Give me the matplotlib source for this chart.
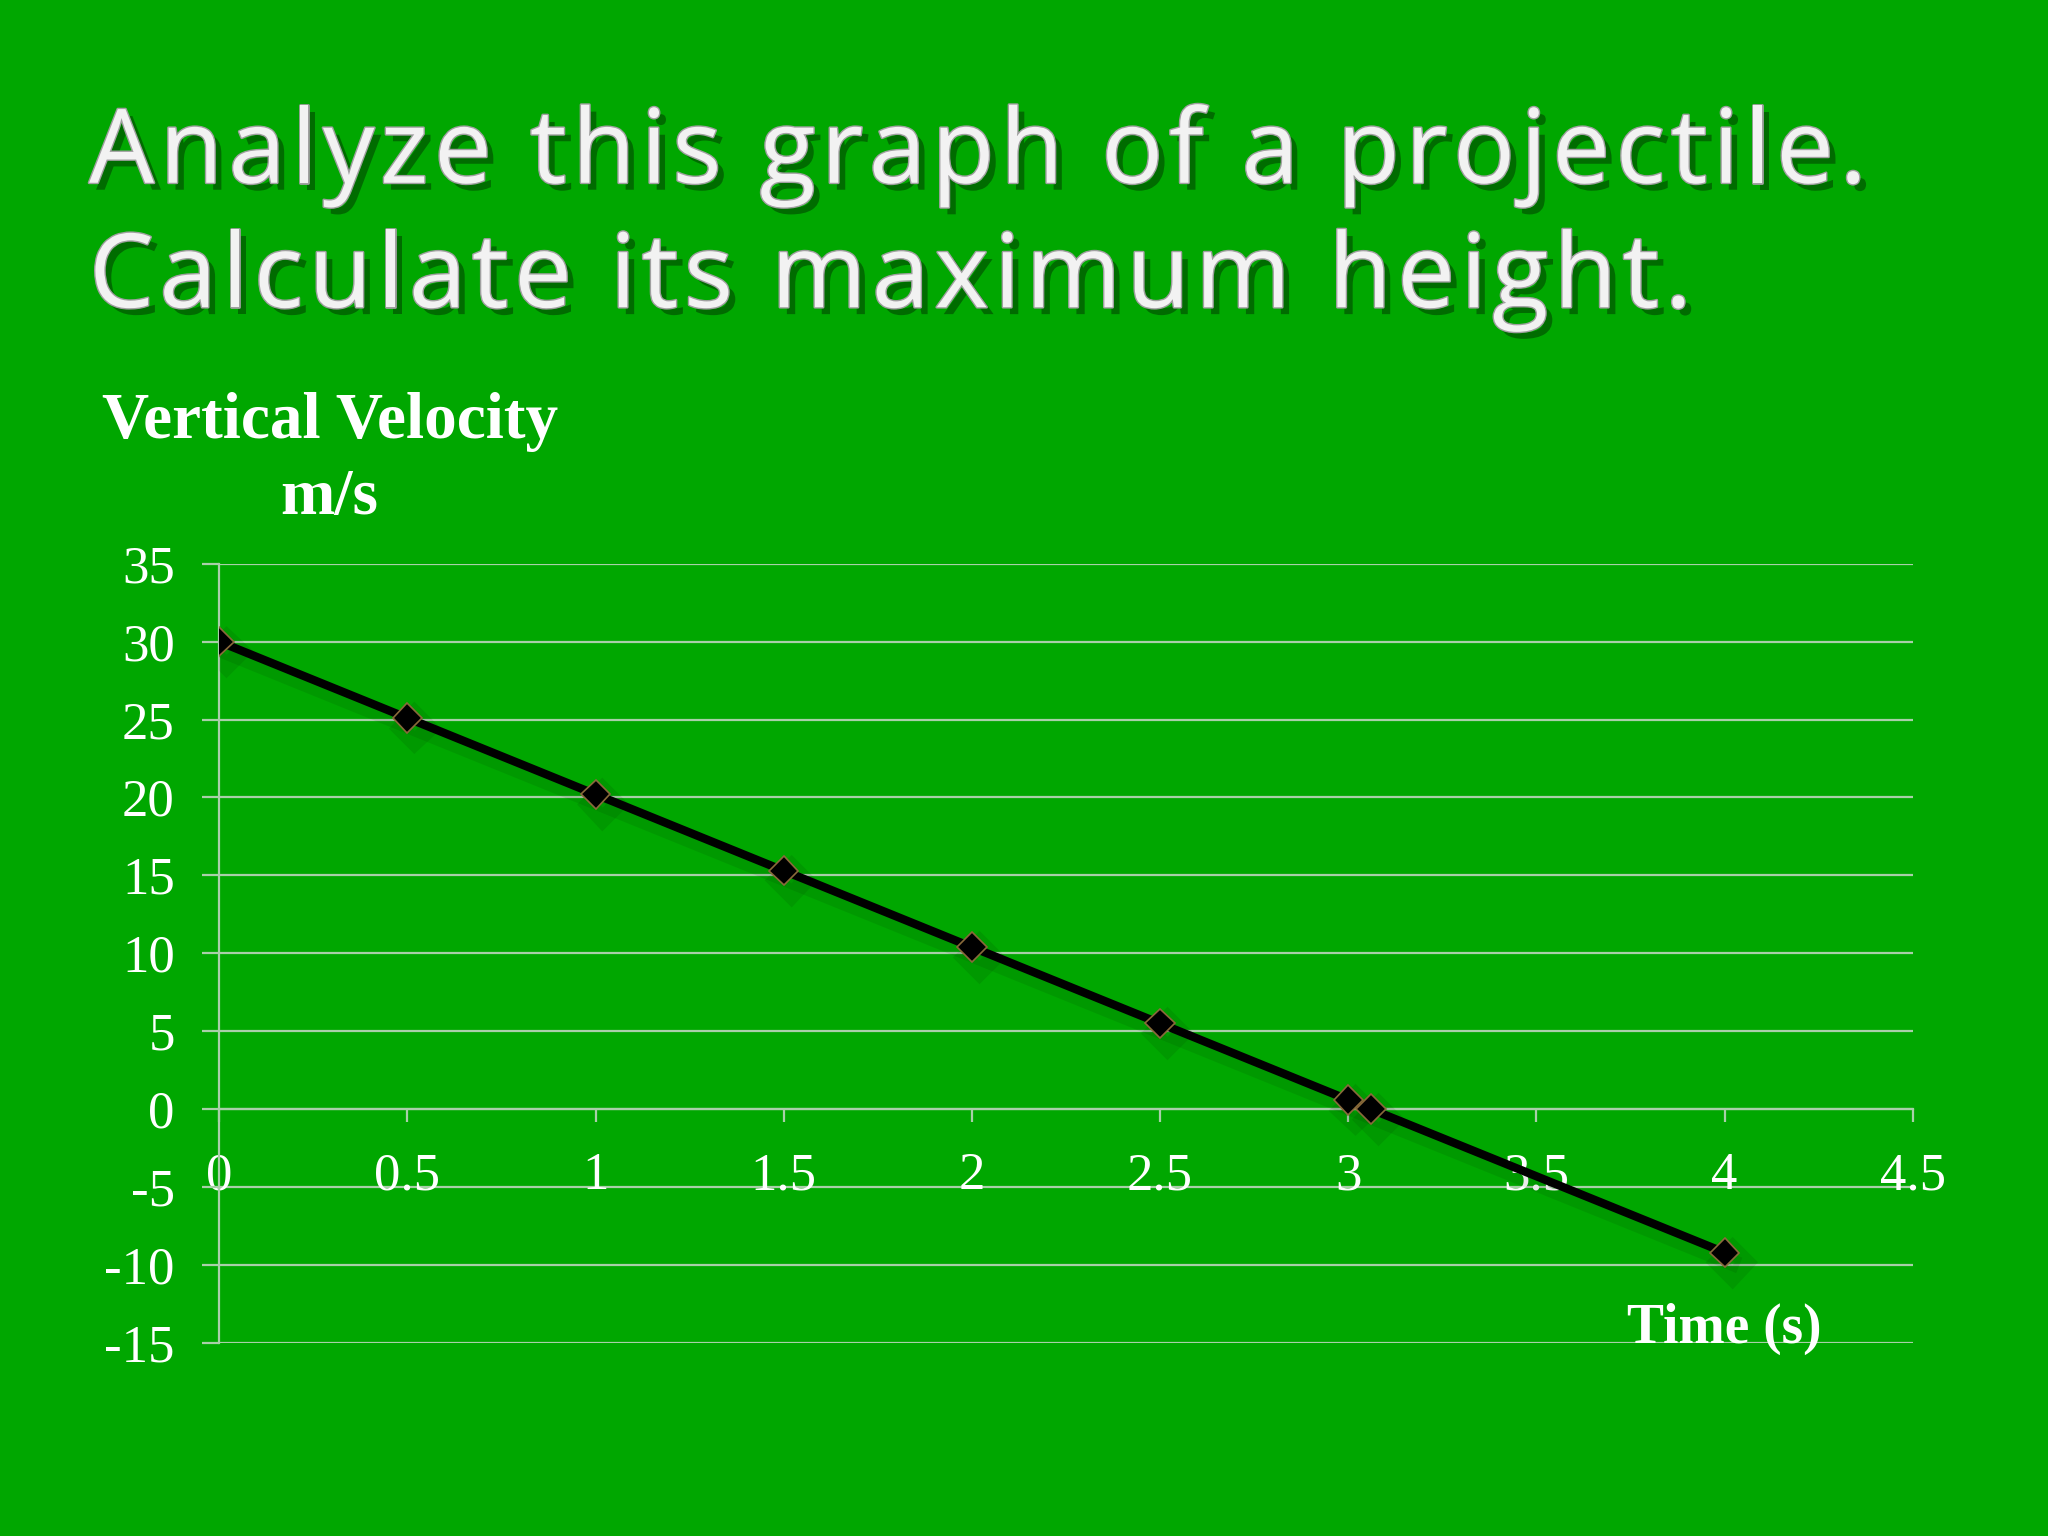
import numpy as np
import matplotlib.pyplot as plt
import matplotlib.patheffects as pe

# data
time_s = [0, 0.5, 1, 1.5, 2, 2.5, 3, 3.06, 4]
velocity = [30, 25.1, 20.2, 15.3, 10.4, 5.5, 0.6, 0, -9.2]
x_ticks = [0, 0.5, 1, 1.5, 2, 2.5, 3, 3.5, 4, 4.5]
x_labels = ['0', '0.5', '1', '1.5', '2', '2.5', '3', '3.5', '4', '4.5']
y_ticks = [-15, -10, -5, 0, 5, 10, 15, 20, 25, 30, 35]

green = '#00a700'
grid_c = '#a9cfa9'
serif = ['Liberation Serif', 'DejaVu Serif']

fig = plt.figure(figsize=(20.48, 15.36), dpi=100, facecolor=green)
ax = fig.add_axes([0.107, 0.1257, 0.827, 0.5073])
ax.set_facecolor(green)
rend = fig.canvas.get_renderer()


def text_w(s, **kw):
    t = fig.text(0, 0, s, **kw)
    w = t.get_window_extent(rend).width
    t.remove()
    return w


def spaced_text(x, y, s, track, fx=None, **kw):
    # text with extra letter spacing (track in pixels)
    W = fig.bbox.width
    x0 = x * W
    for i, ch in enumerate(s):
        if ch == ' ':
            continue
        w = text_w(s[:i + 1], **kw)
        c = text_w(ch, **kw)
        t = fig.text((x0 + w - c + i * track) / W, y, ch, ha='left', **kw)
        if fx:
            t.set_path_effects(fx)


# title with shadow
title_fx = [pe.withSimplePatchShadow(offset=(5, -5), shadow_rgbFace='black', alpha=0.35),
            pe.Stroke(linewidth=2, foreground='#a0a0a0'), pe.Normal()]
for txt, yy in [('Analyze this graph of a projectile.', 0.881),
                ('Calculate its maximum height.', 0.800)]:
    spaced_text(0.0435, yy, txt, 5.7, fx=title_fx, color='#f2f2f2', fontsize=74,
                family=['Open Sans', 'DejaVu Sans'], va='baseline')

line_fx = [pe.SimpleLineShadow(offset=(5, -7), shadow_color='black', alpha=0.08, linewidth=12), pe.Normal()]
ax.plot(time_s, velocity, color='black', lw=6, marker='D', ms=15,
        markerfacecolor='black', markeredgecolor='#8a6a3a', markeredgewidth=1.2,
        zorder=5, path_effects=line_fx)

ax.set_xlim(0, 4.5)
ax.set_ylim(-15, 35)

for y in y_ticks:
    ax.axhline(y, color=grid_c, lw=1.6, zorder=1)

for s in ['top', 'right']:
    ax.spines[s].set_visible(False)
ax.spines['left'].set_color(grid_c)
ax.spines['left'].set_linewidth(1.6)
ax.spines['bottom'].set_position(('data', 0))
ax.spines['bottom'].set_color(grid_c)
ax.spines['bottom'].set_linewidth(1.6)

ax.set_yticks(y_ticks)
ax.set_yticklabels([str(v) for v in y_ticks], family=serif, fontsize=38, color='white')
ax.tick_params(axis='y', length=12, width=1.6, color=grid_c, pad=20)

ax.set_xticks(x_ticks)
ax.set_xticklabels(x_labels, family=serif, fontsize=38, color='white')
ax.tick_params(axis='x', length=9, width=1.6, color=grid_c, pad=22)

lab = dict(color='white', fontsize=47, fontweight='bold', family=serif, ha='center', va='center')
fig.text(0.161, 0.725, 'Vertical Velocity', **lab)
fig.text(0.161, 0.676, 'm/s', **lab)
fig.text(0.842, 0.135, 'Time (s)', color='white', fontsize=40,
         fontweight='bold', family=serif, ha='center', va='center')

fig.savefig('out.png', dpi=100, facecolor=green)
